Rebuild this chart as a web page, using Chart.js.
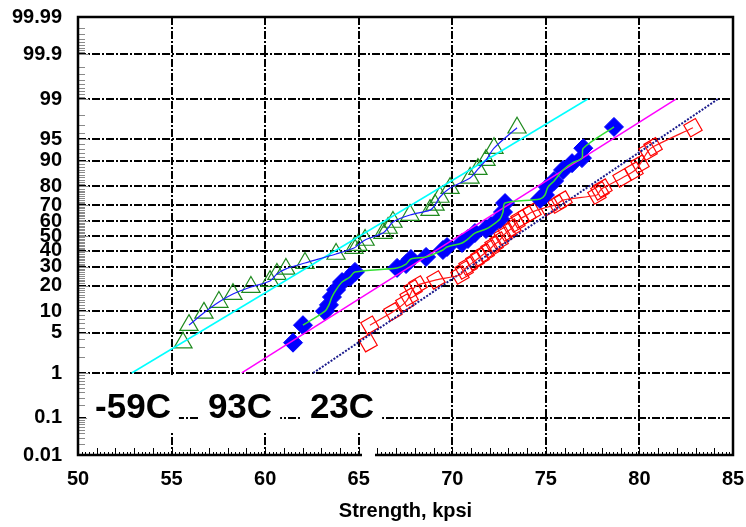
<!DOCTYPE html>
<html>
<head>
<meta charset="utf-8">
<script src="https://cdn.jsdelivr.net/npm/chart.js@4.4.0/dist/chart.umd.min.js"></script>
<style>
  html, body { margin: 0; padding: 0; background: #fff; }
  #wrap { width: 746px; height: 527px; position: relative; }
</style>
</head>
<body>
<div id="wrap"><canvas id="strengthChart" width="746" height="527"></canvas></div>
<script>
// probability axis ticks (percent failing)
const probTicks = [0.01, 0.1, 1, 5, 10, 20, 30, 40, 50, 60, 70, 80, 90, 95, 99, 99.9, 99.99];
const probLabels = ["0.01", "0.1", "1", "5", "10", "20", "30", "40", "50", "60", "70", "80", "90", "95", "99", "99.9", "99.99"];

// -59C  (open green triangles)
const coldStrength = [55.61, 55.93, 56.73, 57.53, 58.28, 59.24, 60.26, 60.63, 61.11, 62.13, 63.79, 64.75, 64.96, 65.34,
    66.30, 66.57, 66.83, 67.74, 68.81, 69.08, 69.34, 69.88, 70.95, 71.37, 71.80, 72.23, 73.46];
const coldProb = [3.5, 6.5, 9.6, 13.1, 16.2, 19.3, 22.2, 25.9, 28.8, 32.3, 38.0, 41.9, 43.9, 47.3,
    52.0, 55.4, 59.4, 63.9, 67.0, 70.1, 74.6, 79.2, 83.8, 87.2, 90.1, 93.2, 96.7];

// 93C  (filled blue diamonds)
const hotStrength = [61.49, 62.02, 63.20, 63.41, 63.57, 63.79, 64.11, 64.53, 64.80, 67.05, 67.53, 67.79, 68.60, 69.50,
    69.72, 70.52, 70.84, 71.21, 71.80, 72.07, 72.55, 72.71, 72.82, 74.69, 74.95, 75.11, 75.44, 75.92, 76.40, 76.93,
    77.00, 78.64];
const hotProb = [3.5, 6.5, 10.1, 12.1, 15.0, 18.0, 21.7, 24.3, 27.1, 29.4, 31.7, 34.8, 36.1, 40.6,
    42.6, 45.3, 48.0, 52.0, 54.7, 56.7, 61.4, 65.8, 71.2, 73.5, 75.7, 79.7, 82.5, 86.9, 89.2, 90.7,
    93.2, 96.8];

// 23C  (open red diamonds)
const roomStrength = [65.50, 65.60, 66.83, 67.47, 67.69, 67.90, 68.17, 69.13, 70.41, 70.63, 70.84, 71.21, 71.48, 71.75,
    72.02, 72.23, 72.50, 72.71, 72.92, 73.19, 73.40, 73.62, 73.99, 74.26, 75.11, 75.60, 75.92, 77.73, 77.89, 78.05,
    79.07, 79.71, 80.03, 80.46, 80.73, 82.86];
const roomProb = [3.5, 6.5, 9.9, 12.8, 15.0, 18.4, 20.3, 22.8, 25.4, 28.2, 30.5, 33.6, 36.1, 38.6,
    41.3, 43.9, 46.6, 50.0, 52.7, 55.4, 58.7, 61.4, 63.9, 65.8, 68.9, 70.6, 72.9, 75.7, 77.8, 79.2,
    83.8, 86.5, 88.9, 92.5, 93.5, 96.7];

// fitted normal lines, from 1% to 99%
const fitProb = [1, 99];
const coldFit = [52.87, 77.24];
const hotFit = [58.75, 81.95];
const roomFit = [62.57, 84.20];

const tempLabels = ["-59C", "93C", "23C"];

// inverse normal cdf (Acklam)
function probit(p) {
    const a = [-39.69683028665376, 220.9460984245205, -275.9285104469687, 138.3577518672690, -30.66479806614716, 2.506628277459239];
    const b = [-54.47609879822406, 161.5858368580409, -155.6989798598866, 66.80131188771972, -13.28068155288572];
    const c = [-0.007784894002430293, -0.3223964580411365, -2.400758277161838, -2.549671667688590, 4.374664141464968, 2.938163982698783];
    const d = [0.007784695709041462, 0.3224671290700398, 2.445134137142996, 3.754408661907416];
    const pl = 0.02425;
    let q, r;
    if (p < pl) {
        q = Math.sqrt(-2 * Math.log(p));
        return (((((c[0]*q+c[1])*q+c[2])*q+c[3])*q+c[4])*q+c[5]) / ((((d[0]*q+d[1])*q+d[2])*q+d[3])*q+1);
    }
    if (p <= 1 - pl) {
        q = p - 0.5; r = q * q;
        return (((((a[0]*r+a[1])*r+a[2])*r+a[3])*r+a[4])*r+a[5])*q / (((((b[0]*r+b[1])*r+b[2])*r+b[3])*r+b[4])*r+1);
    }
    q = Math.sqrt(-2 * Math.log(1 - p));
    return -(((((c[0]*q+c[1])*q+c[2])*q+c[3])*q+c[4])*q+c[5]) / ((((d[0]*q+d[1])*q+d[2])*q+d[3])*q+1);
}

const toPoints = (xs, ps) => xs.map((x, i) => ({ x: x, y: probit(ps[i] / 100) }));

const FONT = "'Liberation Sans', Arial, sans-serif";

// minor ticks, label boxes and frame
const decorPlugin = {
    id: 'decor',
    beforeDatasetsDraw(chart) {
        const { ctx, chartArea: ca, scales } = chart;
        const ys = scales.y, xs = scales.x;
        ctx.save();
        // y minor ticks
        ctx.strokeStyle = '#8a8a8a';
        ctx.lineWidth = 1;
        const minors = [];
        for (let k = 2; k <= 9; k++) { minors.push(k / 100, k / 10, 100 - k / 10, 100 - k / 100); }
        for (let k = 2; k <= 98; k++) { if (k % 10 !== 0 && k !== 5 && k !== 95) minors.push(k); }
        minors.forEach(p => {
            const y = Math.round(ys.getPixelForValue(probit(p / 100))) + 0.5;
            ctx.beginPath(); ctx.moveTo(ca.left, y); ctx.lineTo(ca.left + 7, y); ctx.stroke();
        });
        probTicks.forEach(p => {
            const y = Math.round(ys.getPixelForValue(probit(p / 100))) + 0.5;
            ctx.beginPath(); ctx.moveTo(ca.left, y); ctx.lineTo(ca.left + 11, y); ctx.stroke();
        });
        // x minor ticks
        ctx.strokeStyle = '#000';
        for (let v = 50; v <= 85.001; v += 0.2) {
            const x = Math.round(xs.getPixelForValue(v)) + 0.5;
            const whole = Math.abs(v - Math.round(v)) < 0.01;
            ctx.beginPath(); ctx.moveTo(x, ca.bottom); ctx.lineTo(x, ca.bottom - (whole ? 7 : 3)); ctx.stroke();
        }
        ctx.restore();
    },
    afterDraw(chart) {
        const { ctx, chartArea: ca } = chart;
        ctx.save();
        // temperature labels on white boxes
        ctx.font = "bold 35px " + FONT;
        ctx.textAlign = 'center';
        ctx.textBaseline = 'middle';
        const centers = [133, 240, 342];
        tempLabels.forEach((t, i) => {
            const w = ctx.measureText(t).width;
            ctx.fillStyle = '#fff';
            ctx.fillRect(centers[i] - w / 2 - 8, 376, w + 16, 56);
            ctx.fillStyle = '#000';
            ctx.fillText(t, centers[i], 408);
        });
        // frame
        ctx.strokeStyle = '#000';
        ctx.lineWidth = 2.5;
        ctx.strokeRect(ca.left, ca.top, ca.right - ca.left, ca.bottom - ca.top);
        // small white gap on the bottom axis
        ctx.fillStyle = '#fff';
        ctx.fillRect(362, 437, 13, 22);
        ctx.restore();
    }
};

const ctx = document.getElementById("strengthChart").getContext("2d");
new Chart(ctx, {
    type: 'scatter',
    data: {
        datasets: [
            { data: toPoints(coldStrength.slice(1), coldProb.slice(1)), showLine: true, borderColor: '#1c1cff', borderWidth: 1.2,
              pointRadius: 0, tension: 0.3, order: 1 },
            { data: toPoints(hotStrength.slice(1), hotProb.slice(1)), showLine: true, borderColor: '#33e033', borderWidth: 1.5,
              pointRadius: 0, tension: 0.3, order: 1 },
            { data: toPoints(roomStrength.slice(1), roomProb.slice(1)), showLine: true, borderColor: '#ff1a1a', borderWidth: 1.2,
              pointRadius: 0, tension: 0.3, order: 1 },
            { data: toPoints(coldFit, fitProb), showLine: true, borderColor: '#00ffff', borderWidth: 1.5, pointRadius: 0, order: 1 },
            { data: toPoints(hotFit, fitProb), showLine: true, borderColor: '#ff00ff', borderWidth: 1.5, pointRadius: 0, order: 1 },
            { data: toPoints(roomFit, fitProb), showLine: true, borderColor: '#1a1a8c', borderWidth: 2, borderDash: [2, 1.5],
              pointRadius: 0, order: 1 },
            { label: '-59C', data: toPoints(coldStrength, coldProb), pointStyle: 'triangle', pointRadius: 10.5,
              borderColor: '#1e8a1e', backgroundColor: 'rgba(0,0,0,0)', borderWidth: 1.2, order: 2 },
            { label: '93C', data: toPoints(hotStrength, hotProb), pointStyle: 'rectRot', pointRadius: 9.5,
              borderColor: '#0000ff', backgroundColor: '#0000ff', borderWidth: 1, order: 2 },
            { label: '23C', data: toPoints(roomStrength, roomProb), pointStyle: 'rectRot', pointRadius: 9.5, rotation: 15,
              borderColor: '#ff0000', backgroundColor: 'rgba(0,0,0,0)', borderWidth: 1.2, order: 2 }
        ]
    },
    options: {
        responsive: false,
        animation: false,
        layout: { padding: { left: 0, right: 13, top: 17, bottom: 0 } },
        plugins: { legend: { display: false }, tooltip: { enabled: false } },
        scales: {
            x: {
                type: 'linear', min: 50, max: 85,
                ticks: { stepSize: 5, color: '#000', padding: 12, font: { size: 20, weight: 'bold', family: FONT } },
                grid: { color: '#000', lineWidth: 2, drawTicks: false },
                border: { display: false, dash: [8, 2, 2, 2] },
                title: { display: true, text: 'Strength, kpsi', color: '#000', padding: { top: 0, bottom: 4 },
                         font: { size: 20, weight: 'bold', family: FONT } },
                afterFit: (s) => { s.height = 72; s.paddingLeft = 0; s.paddingRight = 0; }
            },
            y: {
                type: 'linear', min: probit(0.0001), max: probit(0.9999),
                afterBuildTicks: (s) => { s.ticks = probTicks.map(p => ({ value: probit(p / 100) })); },
                ticks: { autoSkip: false, color: '#000', padding: 16, font: { size: 20, weight: 'bold', family: FONT },
                         callback: (v, i) => probLabels[i] },
                grid: { color: (c) => (c.index === 0 || c.index === probTicks.length - 1) ? 'rgba(0,0,0,0)' : '#000',
                        lineWidth: 2, drawTicks: false },
                border: { display: false, dash: [8, 2, 2, 2] },
                afterFit: (s) => { s.width = 78; s.paddingTop = 0; s.paddingBottom = 0; }
            }
        }
    },
    plugins: [decorPlugin]
});
</script>
</body>
</html>
